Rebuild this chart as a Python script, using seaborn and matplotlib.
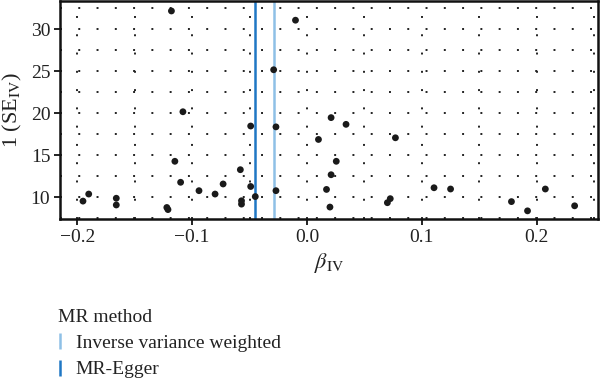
import matplotlib
matplotlib.use("Agg")
import matplotlib.pyplot as plt
import seaborn as sns
import pandas as pd
from matplotlib.lines import Line2D

beta_iv = [-0.118, -0.195, -0.190, -0.166, -0.166, -0.122, -0.121, -0.108, -0.115, -0.110,
           -0.094, -0.080, -0.073, -0.058, -0.057, -0.057, -0.049, -0.049, -0.045, -0.029,
           -0.027, -0.027, -0.010, 0.021, 0.034, 0.010, 0.077, 0.0255, 0.021, 0.017,
           0.020, 0.070, 0.0725, 0.1106, 0.125, 0.178, 0.192, 0.2075, 0.233]
inv_se = [32.2, 9.56, 10.4, 9.9, 9.1, 8.8, 8.55, 20.2, 14.3, 11.8,
          10.8, 10.4, 11.6, 13.3, 9.6, 9.2, 18.5, 11.3, 10.1, 25.2,
          18.4, 10.8, 31.1, 19.5, 18.7, 16.9, 17.1, 14.3, 12.7, 10.95,
          8.85, 9.37, 9.85, 11.15, 11.0, 9.5, 8.4, 11.0, 9.0]
methods = ["Inverse variance weighted", "MR-Egger"]
method_estimates = [-0.0285, -0.045]
method_colors = ["#8ec0e6", "#1f77c4"]
x_ticks = [-0.2, -0.1, 0.0, 0.1, 0.2]
y_ticks = [10, 15, 20, 25, 30]

sns.set_theme(style="white")
plt.rcParams['font.family'] = ['Liberation Serif', 'DejaVu Serif']
plt.rcParams['mathtext.fontset'] = 'stix'

df = pd.DataFrame({"beta": beta_iv, "inv_se": inv_se})

fig = plt.figure(figsize=(6, 3.81), dpi=100)
ax = fig.add_axes([0.1, 0.425, 0.896, 0.572])

ax.set_xlim(-0.215, 0.253)
ax.set_ylim(7.42, 33.37)

# dotted grid (major + minor)
grid_kw = dict(color="#222222", lw=1.4, dashes=(1, 8.4), dash_capstyle="butt", zorder=0)
for gx in [-0.2, -0.15, -0.1, -0.05, 0.0, 0.05, 0.1, 0.15, 0.2, 0.25]:
    ax.axvline(gx, **grid_kw)
for gy in [7.5, 10, 12.5, 15, 17.5, 20, 22.5, 25, 27.5, 30, 32.5]:
    ax.axhline(gy, **grid_kw)

sns.scatterplot(data=df, x="beta", y="inv_se", ax=ax, color="#1a1a1a", s=24,
                edgecolor="none", zorder=3, legend=False)

for m, est, c in zip(methods, method_estimates, method_colors):
    ax.axvline(est, color=c, lw=1.8, zorder=2)

ax.set_xticks(x_ticks)
ax.set_xticklabels(["\u22120.2", "\u22120.1", "0.0", "0.1", "0.2"])
ax.set_yticks(y_ticks)
ax.tick_params(axis="both", direction="out", length=4, width=1.3, color="#111111",
               labelsize=14, labelcolor="#222222", pad=3, bottom=True, left=True)
for s in ax.spines.values():
    s.set_visible(True)
    s.set_color("#111111")
    s.set_linewidth(1.8)

ax.set_xlabel(r"$\beta_{\mathrm{IV}}$", fontsize=16, color="#222222", labelpad=4)
ax.set_ylabel(r"1 (SE$_{\mathrm{IV}}$)", fontsize=16, color="#222222", labelpad=5)

handles = [Line2D([], [], color=c, marker="|", linestyle="none", markersize=11,
                  markeredgewidth=1.8) for c in method_colors]
leg = fig.legend(handles, methods, title="MR method", loc="upper left",
                 bbox_to_anchor=(0.0973, 0.19), frameon=False, fontsize=14,
                 title_fontsize=14, handlelength=0.15, handletextpad=0.75,
                 labelspacing=0.45, borderaxespad=0, borderpad=0)
leg._legend_box.align = "left"
leg._legend_box._children[0].sep = 8
for t in leg.get_texts():
    t.set_color("#222222")
leg.get_title().set_color("#222222")

fig.savefig("out.png", dpi=100)
